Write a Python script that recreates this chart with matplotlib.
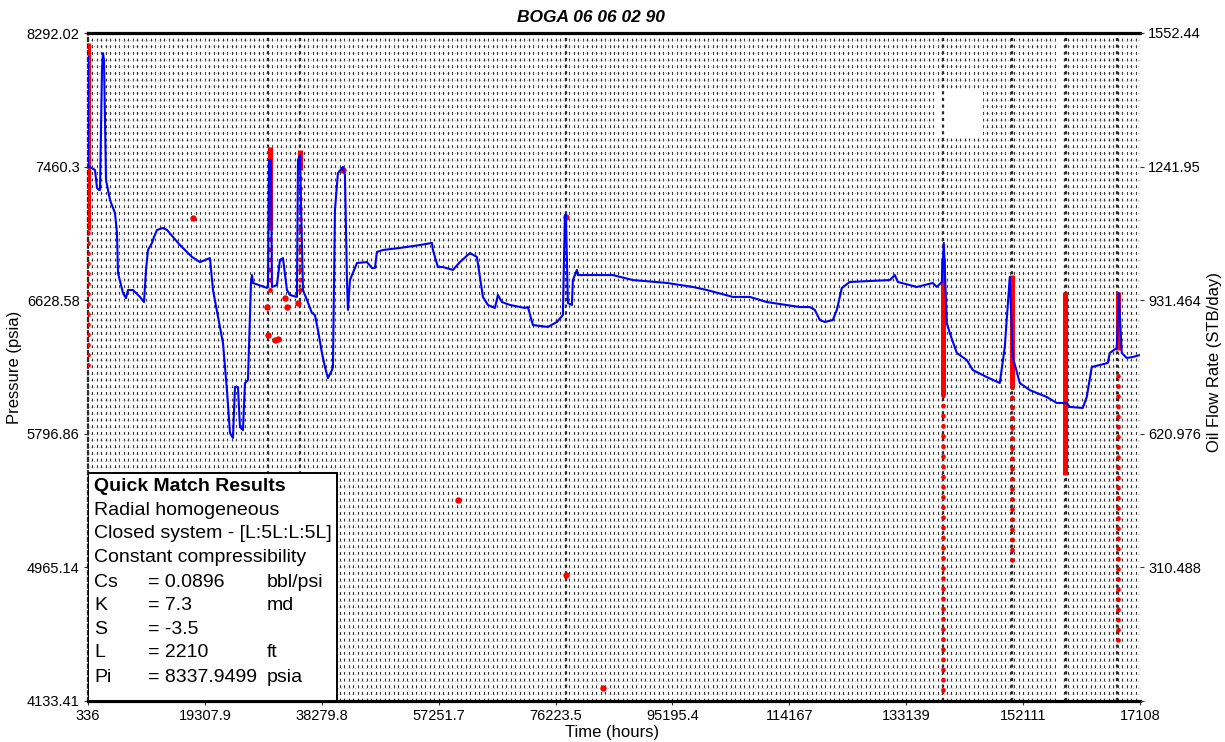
import matplotlib
matplotlib.use('Agg')
import matplotlib.pyplot as plt
from matplotlib.ticker import MultipleLocator, FixedLocator
from matplotlib.patches import Rectangle
import numpy as np

plt.rcParams['font.family'] = ['Liberation Sans', 'DejaVu Sans']

# ---------------- data ----------------
title = "BOGA 06 06 02 90"
x_ticks = [336, 19307.9, 38279.8, 57251.7, 76223.5, 95195.4, 114167, 133139, 152111, 171083]
x_tick_labels = ["336", "19307.9", "38279.8", "57251.7", "76223.5", "95195.4",
                 "114167", "133139", "152111", "17108"]
p_ticks = [4133.41, 4965.14, 5796.86, 6628.58, 7460.3, 8292.02]
p_tick_labels = ["4133.41", "4965.14", "5796.86", "6628.58", "7460.3", "8292.02"]
q_ticks = [0, 310.488, 620.976, 931.464, 1241.95, 1552.44]
q_tick_labels = ["", "310.488", "620.976", "931.464", "1241.95", "1552.44"]

# simulated pressure (blue)
model_time = [336, 336, 661, 1472, 1796, 2121, 2283, 2607, 2770, 2932, 3257, 3906, 4717, 5042,
              5204, 6016, 6502, 6827, 7638, 8774, 9423, 9748, 10072, 10721, 11046, 11533,
              12506, 13155, 14129, 15265, 17212, 18510, 20133, 20620, 21756, 22242, 22891,
              23378, 23865, 24190, 24676, 25001, 25488, 25812, 26299, 26786, 26948, 27110,
              29382, 29545, 29707, 30032, 30194, 31005, 31492, 31979, 32628, 33115, 34250,
              34413, 34737, 35224, 35873, 36684, 37171, 37658, 38307, 38794, 39281, 39930,
              40092, 40417, 40903, 41715, 42039, 42364, 42526, 42851, 43987, 45609, 46420,
              46907, 47232, 48205, 50964, 54209, 56157, 56319, 57130, 57942, 59565, 60701,
              62324, 63460, 63946, 64433, 65244, 66380, 66867, 67516, 68814, 71248, 71735,
              72546, 74980, 76441, 77414, 77739, 77901, 78226, 78875, 79037, 79686, 79848,
              85528, 88773, 94290, 98509, 100781, 104999, 107758, 110517, 115871, 117494,
              118306, 119117, 119928, 121226, 121875, 122687, 123985, 130476, 131287, 131774,
              134857, 137453, 138102, 138914, 139238, 139725, 140211, 141347, 142970, 143943,
              146215, 148325, 149136, 149947, 150434, 151570, 153193, 155951, 157574, 158872,
              159196, 159683, 161793, 162442, 163253, 164551, 165849, 166174, 167310,
              167634, 168121, 168932, 169906, 171042]
model_pressure = [8143, 7458, 7458, 7439, 7327, 7315, 7315, 8062, 8167, 8124, 7377, 7252, 7171, 7047,
                  6798, 6673, 6642, 6692, 6692, 6649, 6617, 6817, 6941, 6985, 7022, 7066,
                  7078, 7066, 7022, 6972, 6898, 6866, 6891, 6692, 6462, 6362, 6069,
                  5802, 5771, 6088, 6088, 5839, 5820, 6113, 6132, 6736, 6785, 6736,
                  6705, 6723, 7501, 7501, 6711, 6723, 6879, 6891, 6692, 6661, 6649,
                  7501, 7533, 6692, 6630, 6549, 6536, 6443, 6300, 6213, 6144, 6194,
                  6213, 7190, 7420, 7458, 7408, 6754, 6568, 6754, 6860, 6866, 6829,
                  6829, 6929, 6941, 6954, 6972, 6985, 6941, 6835, 6835, 6817, 6866,
                  6922, 6898, 6773, 6649, 6599, 6580, 6661, 6617, 6599, 6580, 6586,
                  6474, 6462, 6493, 6536, 7159, 7159, 6611, 6599, 6754, 6817, 6785,
                  6785, 6754, 6736, 6711, 6692, 6649, 6649, 6617, 6586, 6586,
                  6568, 6505, 6493, 6505, 6568, 6705, 6742, 6754, 6785, 6742,
                  6711, 6736, 6711, 6742, 6985, 6487, 6424, 6300, 6256, 6194,
                  6150, 6113, 6337, 6773, 6275, 6113, 6069, 6026, 5989, 5989,
                  5989, 5964, 5958, 6026, 6213, 6225, 6238, 6300, 6331,
                  6673, 6300, 6269, 6275, 6287]

# measured pressure points (red)
data_time = [17374, 29382, 29545, 30681, 31167, 32303, 32628, 34413, 41715, 60376, 77901, 77901, 83905]
data_pressure = [7140, 6586, 6412, 6381, 6387, 6642, 6586, 6611, 7439, 5385, 7147, 4918, 4214]

# dense red data streaks at shut-in periods
streak_time = [336, 29869, 34737, 139076, 150271, 158872, 167472]
streak_solid_top = [8230, 7582, 7564, 6891, 6785, 6680, 6680]
streak_solid_bottom = [7066, 7066, 7439, 6038, 6101, 5540, 6319]
streak_dot_top = [7066, 7066, 7439, 6038, 6101, np.nan, 6194]
streak_dot_bottom = [6225, 6692, 6692, 4202, 5011, np.nan, 4513]

event_times = [29545, 34737, 77901, 139076, 150271, 159034, 167310]
gap_band = [157412, 158547]

results_title = "Quick Match Results"
results_lines = ["Radial homogeneous", "Closed system - [L:5L:L:5L]", "Constant compressibility"]
param_names = ["Cs", "K", "S", "L", "Pi"]
param_values = ["= 0.0896", "= 7.3", "= -3.5", "= 2210", "= 8337.9499"]
param_units = ["bbl/psi", "md", "", "ft", "psia"]

# ---------------- figure ----------------
W, H = 1225, 742
fig = plt.figure(figsize=(W / 100, H / 100), dpi=100)
ax = fig.add_axes([88 / W, 41 / H, 1052 / W, 668 / H])
ax.set_xlim(x_ticks[0], x_ticks[-1])
ax.set_ylim(p_ticks[0], p_ticks[-1])

# fine grid
ax.set_axisbelow(True)
ax.xaxis.set_minor_locator(MultipleLocator((x_ticks[1] - x_ticks[0]) / 26, offset=x_ticks[0]))
ax.yaxis.set_minor_locator(MultipleLocator((p_ticks[1] - p_ticks[0]) / 20, offset=p_ticks[0]))
ax.grid(which='both', axis='x', color='#2e2e2e', lw=0.8, linestyle=(0, (2.6, 3.4)))
ax.grid(which='both', axis='y', color='#808080', lw=0.5, linestyle=(0, (1, 3)))
ax.tick_params(which='minor', length=0)

ax.axvspan(gap_band[0], gap_band[1], color='white', zorder=1.1, lw=0)
ax.add_patch(Rectangle((0.8051, 0.8428), 0.0456, 0.0719, transform=ax.transAxes,
                       facecolor='white', edgecolor='none', zorder=1.2))

for t in event_times:
    ax.axvline(t, color='#2a2a2a', lw=1.6, linestyle=(0, (1.4, 1.6)), zorder=1.5)

# red streaks
for t, st, sb, dt, db in zip(streak_time, streak_solid_top, streak_solid_bottom,
                             streak_dot_top, streak_dot_bottom):
    ax.plot([t, t], [sb, st], color='#ff0000', lw=3.6, solid_capstyle='butt', zorder=3)
    if not np.isnan(dt):
        ax.plot([t, t], [db, dt], color='#ff0000', lw=3.4, linestyle=(0, (0.05, 2.1)),
                dash_capstyle='round', zorder=3)

ax.plot(data_time, data_pressure, 'o', color='#ff0000', ms=4.6, mec='none', zorder=3)

# model curve
ax.plot(model_time, model_pressure, color='#0000ff', lw=1.5, zorder=4)

# axes styling
for s in ['top', 'bottom']:
    ax.spines[s].set_linewidth(2.3)
    ax.spines[s].set_color('black')
ax.spines['left'].set_linestyle((0, (1.4, 1.6)))
ax.spines['left'].set_linewidth(1.6)
ax.spines['left'].set_color('#2a2a2a')
ax.spines['right'].set_visible(False)

ax.xaxis.set_major_locator(FixedLocator(x_ticks))
ax.set_xticklabels(x_tick_labels)
ax.yaxis.set_major_locator(FixedLocator(p_ticks))
ax.set_yticklabels(p_tick_labels)
ax.tick_params(which='major', length=3, width=0.8, pad=3, labelsize=10.5, color='#333')

ax2 = ax.twinx()
ax2.set_ylim(q_ticks[0], q_ticks[-1])
ax2.yaxis.set_major_locator(FixedLocator(q_ticks))
ax2.set_yticklabels(q_tick_labels)
ax2.tick_params(which='major', length=3, width=0.8, pad=3, labelsize=10.5, color='#333')
for s in ax2.spines.values():
    s.set_visible(False)

# texts
fig.text(591 / W, 1 - 18 / H, title, ha='center', va='center', fontsize=12.5,
         fontweight='bold', fontstyle='italic')
fig.text(612 / W, 1 - 733 / H, "Time (hours)", ha='center', va='center', fontsize=12)
fig.text(15 / W, 1 - 367 / H, "Pressure (psia)", ha='center', va='center', fontsize=12, rotation=90)
fig.text(1215 / W, 1 - 362 / H, "Oil Flow Rate (STB/day)", ha='center', va='center',
         fontsize=12, rotation=90)

# results box
ax.add_patch(Rectangle((0, 0), 0.2367, 0.3413, transform=ax.transAxes, facecolor='white',
                       edgecolor='black', lw=1.4, zorder=6))
row_y = [0.3204, 0.2859, 0.2500, 0.2141, 0.1781, 0.1437, 0.1063, 0.0719, 0.0359]
fs = 14
ax.text(0.0057, row_y[0], results_title, transform=ax.transAxes, fontsize=fs,
        fontweight='bold', va='center', ha='left', zorder=7)
for i, line in enumerate(results_lines):
    ax.text(0.0057, row_y[i + 1], line, transform=ax.transAxes, fontsize=fs,
            va='center', ha='left', zorder=7)
for i, (n, v, u) in enumerate(zip(param_names, param_values, param_units)):
    y = row_y[i + 4]
    ax.text(0.0057, y, n, transform=ax.transAxes, fontsize=fs, va='center', ha='left', zorder=7)
    ax.text(0.057, y, v, transform=ax.transAxes, fontsize=fs, va='center', ha='left', zorder=7)
    ax.text(0.170, y, u, transform=ax.transAxes, fontsize=fs, va='center', ha='left', zorder=7)

fig.savefig('out.png', dpi=100)
